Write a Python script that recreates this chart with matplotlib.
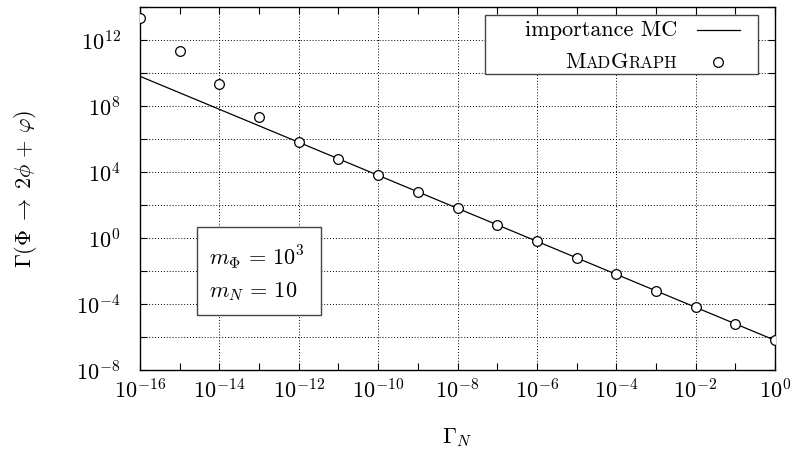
import matplotlib
matplotlib.use("Agg")
import matplotlib.pyplot as plt
from matplotlib.ticker import FixedLocator, NullFormatter, LogFormatterMathtext
from matplotlib.patches import Rectangle
from matplotlib.lines import Line2D
from matplotlib.offsetbox import TextArea, HPacker, AnchoredOffsetbox

plt.rcParams['mathtext.fontset'] = 'cm'
plt.rcParams['font.family'] = ['cmr10', 'DejaVu Sans']
plt.rcParams['axes.formatter.use_mathtext'] = True

# ---- data ----
gamma_N = [1e-16, 1e-15, 1e-14, 1e-13, 1e-12, 1e-11, 1e-10, 1e-9, 1e-8,
           1e-7, 1e-6, 1e-5, 1e-4, 1e-3, 1e-2, 1e-1, 1e0]
importance_mc = [6.3e9, 6.3e8, 6.3e7, 6.3e6, 6.3e5, 6.3e4, 6.3e3, 6.3e2, 6.3e1,
                 6.3e0, 6.3e-1, 6.3e-2, 6.3e-3, 6.3e-4, 6.3e-5, 6.3e-6, 6.3e-7]
madgraph = [2.1e13, 2.2e11, 2.1e9, 2.2e7, 6.3e5, 6.3e4, 6.3e3, 6.3e2, 6.3e1,
            6.3e0, 6.3e-1, 6.3e-2, 6.3e-3, 6.3e-4, 6.3e-5, 6.3e-6, 6.3e-7]
x_major = [1e-16, 1e-14, 1e-12, 1e-10, 1e-8, 1e-6, 1e-4, 1e-2, 1e0]
x_minor = [1e-15, 1e-13, 1e-11, 1e-9, 1e-7, 1e-5, 1e-3, 1e-1]
y_major = [1e-8, 1e-4, 1e0, 1e4, 1e8, 1e12]
y_minor = [1e-6, 1e-2, 1e2, 1e6, 1e10, 1e14]

FS = 16

fig = plt.figure(figsize=(7.92, 4.53), dpi=100)
ax = fig.add_axes([140/792, 1-370/453, 635/792, 363/453])

ax.plot(gamma_N, importance_mc, color='black', lw=0.9, zorder=3)
ax.plot(gamma_N, madgraph, linestyle='none', marker='o', ms=7, mfc='white',
        mec='black', mew=0.9, zorder=4)

ax.set_xscale('log')
ax.set_yscale('log')
ax.set_xlim(1e-16, 1e0)
ax.set_ylim(1e-8, 1e14)

ax.xaxis.set_major_locator(FixedLocator(x_major))
ax.xaxis.set_minor_locator(FixedLocator(x_minor))
ax.yaxis.set_major_locator(FixedLocator(y_major))
ax.yaxis.set_minor_locator(FixedLocator(y_minor))
ax.xaxis.set_major_formatter(LogFormatterMathtext())
ax.yaxis.set_major_formatter(LogFormatterMathtext())
ax.xaxis.set_minor_formatter(NullFormatter())
ax.yaxis.set_minor_formatter(NullFormatter())

ax.tick_params(which='both', direction='in', top=True, right=True,
               length=5, width=0.8, labelsize=FS)
ax.tick_params(axis='x', which='major', pad=6)
ax.tick_params(axis='y', which='major', pad=14)

ax.grid(True, axis='x', which='major', linestyle=(0, (1, 2)), color='black', lw=0.7)
ax.grid(True, axis='y', which='both', linestyle=(0, (1, 2)), color='black', lw=0.7)
ax.set_axisbelow(True)
for s in ax.spines.values():
    s.set_linewidth(1.0)

ax.set_xlabel(r'$\Gamma_N$', fontsize=FS)
ax.set_ylabel(r'$\Gamma(\Phi\;\to\;2\phi\,+\,\varphi)$', fontsize=FS)
ax.xaxis.label.set_va('center')
ax.yaxis.label.set_va('center')
ax.xaxis.set_label_coords(0.5, -0.187)
ax.yaxis.set_label_coords(-0.181, 0.5)

# ---- legend (manual) ----
ax.add_patch(Rectangle((0.543, 0.815), 0.430, 0.163, transform=ax.transAxes,
                       facecolor='white', edgecolor='#444444', lw=1.0, zorder=5))
ax.text(0.846, 0.937, 'importance MC', transform=ax.transAxes, ha='right',
        va='center', fontsize=FS, zorder=6)
ax.add_line(Line2D([0.877, 0.945], [0.937, 0.937], transform=ax.transAxes,
                   color='black', lw=0.9, zorder=6))
ax.add_line(Line2D([0.911], [0.848], transform=ax.transAxes, marker='o', ms=7,
                   mfc='white', mec='black', mew=0.9, linestyle='none', zorder=6))
parts = [('M', FS), ('AD', 12), ('G', FS), ('RAPH', 12)]
pk = HPacker(children=[TextArea(t, textprops=dict(fontsize=s)) for t, s in parts],
             align='baseline', pad=0, sep=0)
ab = AnchoredOffsetbox(loc='center right', child=pk, pad=0, borderpad=0,
                       frameon=False, bbox_to_anchor=(0.846, 0.848),
                       bbox_transform=ax.transAxes)
ab.set_zorder(6)
ax.add_artist(ab)

# ---- parameter box ----
ax.add_patch(Rectangle((0.0898, 0.1515), 0.195, 0.2425, transform=ax.transAxes,
                       facecolor='white', edgecolor='#444444', lw=1.0, zorder=5))
ax.text(0.108, 0.31, r'$m_\Phi\,=\,10^3$', transform=ax.transAxes, ha='left',
        va='center', fontsize=FS, zorder=6)
ax.text(0.108, 0.215, r'$m_N\,=\,10$', transform=ax.transAxes, ha='left',
        va='center', fontsize=FS, zorder=6)

fig.savefig('out.png', dpi=100)
